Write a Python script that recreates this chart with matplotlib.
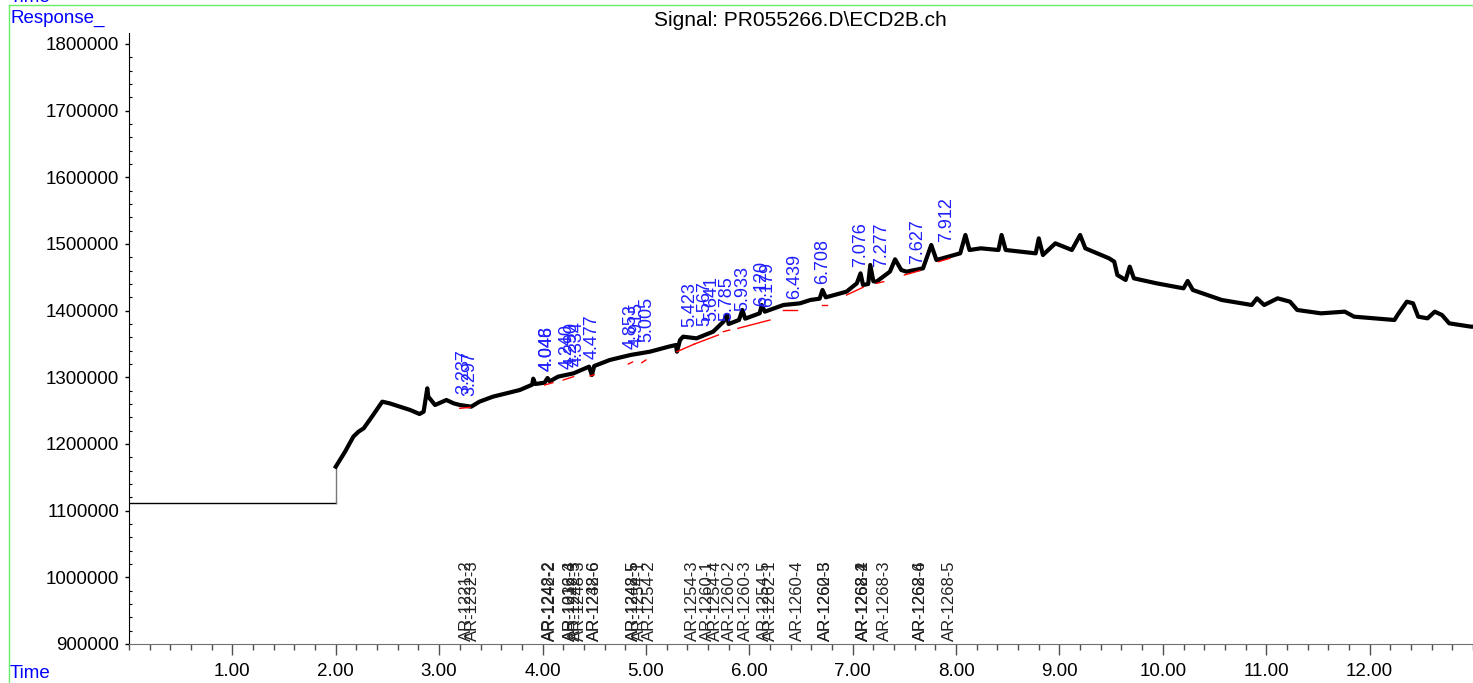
import numpy as np
import matplotlib
matplotlib.use("Agg")
import matplotlib.pyplot as plt
from matplotlib.ticker import MultipleLocator, FormatStrFormatter
from matplotlib.lines import Line2D

plt.rcParams['font.family'] = ['Liberation Sans', 'DejaVu Sans']

# 色谱信号 (时间 min, 响应值)
time = [0.0, 2.0, 2.0, 2.04, 2.09, 2.17, 2.22, 2.27, 2.35, 2.45, 2.52, 2.62, 2.72, 2.81, 2.85,
        2.885, 2.895, 2.96, 3.07, 3.14, 3.20, 3.31, 3.39, 3.52, 3.65, 3.78, 3.90, 3.91, 3.93,
        4.02, 4.048, 4.07, 4.15, 4.30, 4.45, 4.477, 4.50, 4.65, 4.85, 5.04, 5.22, 5.29, 5.30,
        5.33, 5.36, 5.49, 5.65, 5.75, 5.785, 5.80, 5.90, 5.933, 5.96, 6.10, 6.12, 6.15, 6.33,
        6.49, 6.59, 6.68, 6.708, 6.74, 6.94, 7.04, 7.076, 7.10, 7.15, 7.17, 7.20, 7.23, 7.36,
        7.41, 7.47, 7.52, 7.68, 7.76, 7.81, 8.04, 8.09, 8.13, 8.24, 8.41, 8.44, 8.48, 8.77,
        8.80, 8.84, 8.96, 9.12, 9.20, 9.25, 9.48, 9.53, 9.56, 9.64, 9.68, 9.72, 9.94, 10.20,
        10.24, 10.29, 10.57, 10.86, 10.91, 10.98, 11.11, 11.23, 11.30, 11.53, 11.76, 11.85,
        12.24, 12.27, 12.36, 12.42, 12.47, 12.56, 12.63, 12.70, 12.77, 12.98, 13.0]
response = [1111000, 1111000, 1166000, 1176000, 1188500, 1211000, 1218500, 1223500, 1241000,
            1263500, 1261000, 1256000, 1251000, 1245000, 1248500, 1283500, 1271000, 1258500,
            1266000, 1261000, 1258500, 1256000, 1263500, 1271000, 1276000, 1281000, 1289000,
            1298000, 1290000, 1292000, 1299000, 1294000, 1301000, 1306000, 1316000, 1303500,
            1317000, 1326000, 1333500, 1338500, 1346000, 1348500, 1338500, 1356000, 1361000,
            1358500, 1368500, 1383500, 1393500, 1380000, 1386000, 1401000, 1388000, 1396000,
            1408500, 1398500, 1408500, 1411000, 1416000, 1418000, 1431000, 1420000, 1428500,
            1441000, 1456000, 1438500, 1440000, 1468500, 1444000, 1443500, 1458500, 1477000,
            1461000, 1458500, 1463500, 1498500, 1476000, 1486000, 1513500, 1491000, 1493500,
            1491000, 1513500, 1491000, 1486000, 1508500, 1483500, 1501000, 1491000, 1513500,
            1493500, 1478500, 1473500, 1453500, 1446000, 1466000, 1448500, 1441000, 1433500,
            1444500, 1431000, 1416000, 1408500, 1418500, 1408500, 1418500, 1413500, 1401000,
            1396000, 1398500, 1391000, 1386000, 1393500, 1413500, 1411000, 1391000, 1388500,
            1398500, 1393500, 1381000, 1376000, 1376000]

# 积分基线 (起点时间, 起点响应, 终点时间, 终点响应)
base_t0 = [3.20, 4.02, 4.20, 4.46, 4.83, 4.96, 5.30, 5.47, 5.75, 5.89, 6.33, 6.70, 6.94, 7.23, 7.50, 7.83]
base_r0 = [1253500, 1288500, 1296000, 1302000, 1320000, 1322000, 1338500, 1350000, 1368500, 1373500,
           1401000, 1408500, 1423500, 1441000, 1453500, 1473500]
base_t1 = [3.30, 4.10, 4.30, 4.50, 4.87, 5.00, 5.47, 5.70, 5.81, 6.20, 6.46, 6.75, 7.10, 7.30, 7.65, 7.94]
base_r1 = [1255000, 1292000, 1301000, 1304000, 1323000, 1326000, 1350000, 1363500, 1371000, 1386000,
           1401000, 1408500, 1435000, 1443500, 1460000, 1478500]

# 峰保留时间与峰高
peak_rt = [3.237, 3.297, 4.046, 4.048, 4.240, 4.290, 4.334, 4.477, 4.853, 4.915, 5.005, 5.423,
           5.567, 5.641, 5.785, 5.933, 6.120, 6.179, 6.439, 6.708, 7.076, 7.277, 7.627, 7.912]
peak_h = [1258500, 1256000, 1293500, 1293500, 1296000, 1299000, 1301000, 1311000, 1326000,
          1328500, 1336000, 1358500, 1361000, 1368500, 1368500, 1383500, 1391000, 1388500,
          1401000, 1423500, 1448500, 1448500, 1453500, 1486000]

# 化合物名称
comp_name = ["AR-1221-2", "AR-1232-3", "AR-1248-2", "AR-1242-2", "AR-1016-3", "AR-1232-4",
             "AR-1242-3", "AR-1248-3", "AR-1248-6", "AR-1232-6", "AR-1242-5", "AR-1248-5",
             "AR-1254-1", "AR-1254-2", "AR-1254-3", "AR-1260-1", "AR-1254-4", "AR-1260-2",
             "AR-1260-3", "AR-1254-5", "AR-1262-1", "AR-1260-4", "AR-1260-5", "AR-1262-3",
             "AR-1268-1", "AR-1268-2", "AR-1262-4", "AR-1268-3", "AR-1262-6", "AR-1268-4",
             "AR-1268-5"]
comp_rt = [3.237, 3.297, 4.040, 4.048, 4.240, 4.240, 4.290, 4.334, 4.477, 4.477, 4.853, 4.853,
           4.915, 5.005, 5.423, 5.567, 5.641, 5.785, 5.933, 6.120, 6.179, 6.439, 6.708, 6.708,
           7.076, 7.076, 7.076, 7.277, 7.627, 7.627, 7.912]

fig = plt.figure(figsize=(14.73, 6.83), dpi=100)
ax = fig.add_axes([129 / 1473, 39 / 683, 1 - 129 / 1473, (644 - 33) / 683])

t = np.array(time)
r = np.array(response)
ax.plot(t[:2], r[:2], color="black", lw=1.0)
ax.plot(t[1:3], r[1:3], color="#777777", lw=1.0)
ax.plot(t[2:], r[2:], color="black", lw=3.0)

for a, b, c, d in zip(base_t0, base_r0, base_t1, base_r1):
    ax.plot([a, c], [b, d], color="red", lw=1.0)

for rt, h in zip(peak_rt, peak_h):
    ax.annotate(f"{rt:.3f}", (rt, h), xytext=(0, 8), textcoords="offset points",
                rotation=90, ha="center", va="bottom", color="#1f1fff", fontsize=13)

for name, rt in zip(comp_name, comp_rt):
    ax.annotate(name, (rt, 900000), xytext=(2, 2), textcoords="offset points",
                rotation=90, ha="center", va="bottom", color="#222222", fontsize=12)

ax.set_xlim(0, 13)
ax.set_ylim(900000, 1816500)
ax.xaxis.set_major_locator(MultipleLocator(1))
ax.xaxis.set_minor_locator(MultipleLocator(0.2))
ax.xaxis.set_major_formatter(FormatStrFormatter("%.2f"))
ax.yaxis.set_major_locator(MultipleLocator(100000))
ax.yaxis.set_minor_locator(MultipleLocator(20000))
ax.yaxis.set_major_formatter(FormatStrFormatter("%d"))

ax.spines["top"].set_visible(False)
ax.spines["right"].set_visible(False)
ax.spines["bottom"].set_color("#707070")
ax.spines["left"].set_color("black")
ax.tick_params(axis="x", which="major", length=8, width=1, color="#505050", pad=6, labelsize=13.5)
ax.tick_params(axis="x", which="minor", length=4, width=1, color="#505050")
ax.tick_params(axis="y", which="major", length=3, width=1, pad=4, labelsize=13.5)
ax.tick_params(axis="y", which="minor", length=2, width=0.8, direction="in")
ax.set_xticks(np.arange(1, 13))

fig.add_artist(Line2D([8.5 / 1473, 8.5 / 1473], [0, 1 - 5 / 683], color="#66ee66", lw=1))
fig.add_artist(Line2D([8.5 / 1473, 1], [1 - 5 / 683, 1 - 5 / 683], color="#66ee66", lw=1))
fig.text(10 / 1473, 1 + 3 / 683, "Time", color="blue", fontsize=13.5, va="center")
fig.text(10 / 1473, 1 - 18 / 683, "Response_", color="blue", fontsize=13.5, va="center")
fig.text(10 / 1473, 10 / 683, "Time", color="blue", fontsize=13.5, va="center")
fig.text(800 / 1473, 1 - 20 / 683, "Signal: PR055266.D\\ECD2B.ch", color="black",
         fontsize=15, ha="center", va="center")

fig.savefig("out.png", dpi=100)
